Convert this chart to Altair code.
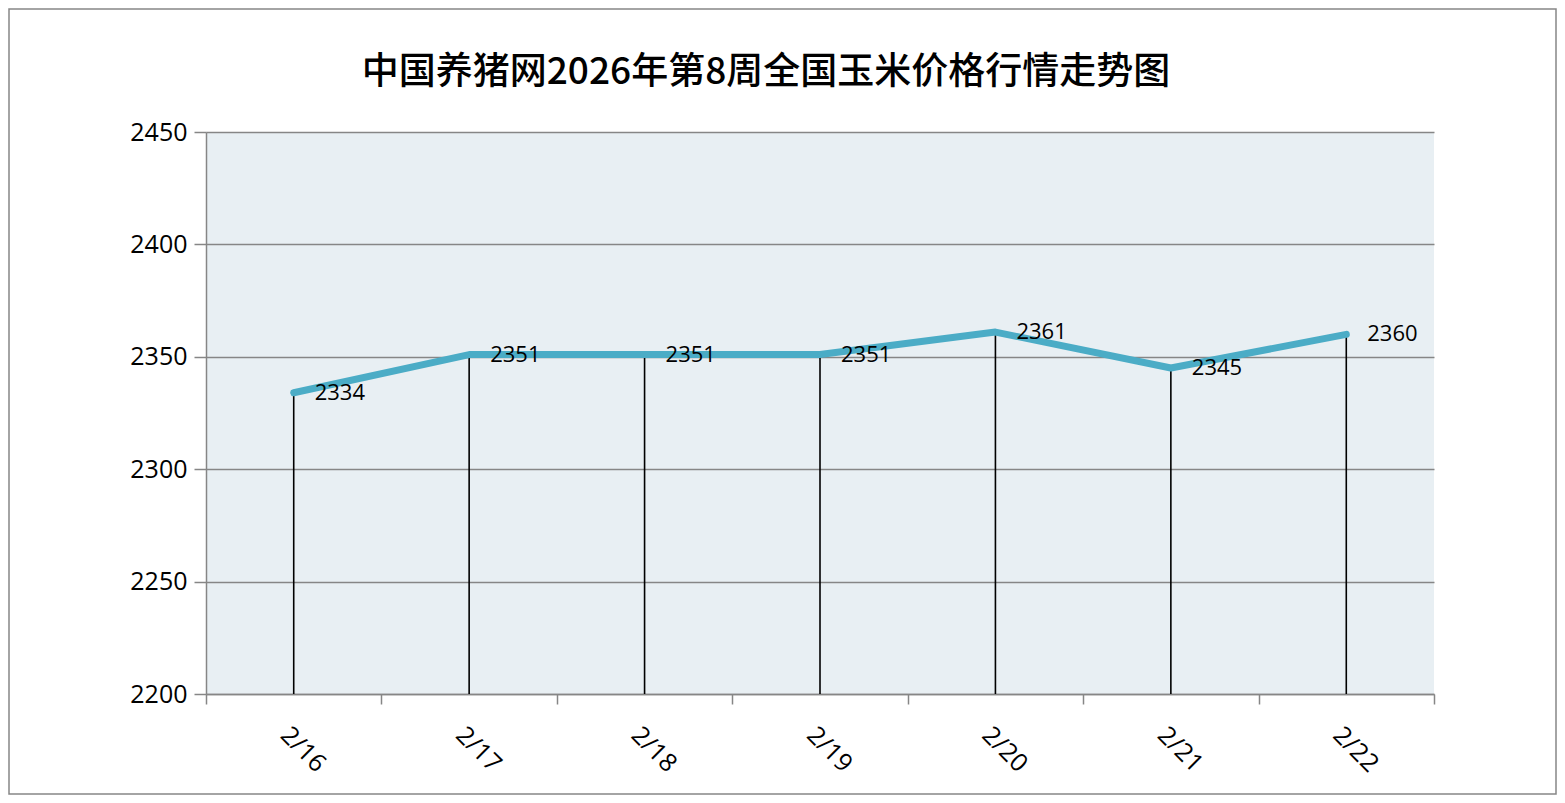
import altair as alt
import pandas as pd

dates = ["2/16", "2/17", "2/18", "2/19", "2/20", "2/21", "2/22"]
prices = [2334, 2351, 2351, 2351, 2361, 2345, 2360]
y_ticks = [2200, 2250, 2300, 2350, 2400, 2450]
title_text = "中国养猪网2026年第8周全国玉米价格行情走势图"

df = pd.DataFrame({"date": dates, "price": prices, "base": [2200] * len(dates)})

W, H = 1228, 562
PL, PT = 198, 124
TOTAL_W, TOTAL_H = 1549, 787
GRAY = "#868686"
FONT = "Open Sans"

xenc = alt.X(
    "date:N",
    sort=dates,
    bandPosition=0.5,
    scale=alt.Scale(type="band", paddingInner=0, paddingOuter=0),
    axis=alt.Axis(
        title=None,
        labelAngle=45,
        labelAlign="center",
        labelBaseline="middle",
        labelPadding=45,
        labelOffset=9,
        labelFont=FONT,
        labelFontSize=25,
        labelColor="black",
        tickBand="extent",
        tickSize=10,
        tickColor=GRAY,
        tickWidth=1.5,
        domainColor=GRAY,
        domainWidth=1.5,
        grid=False,
    ),
)
yenc = alt.Y(
    "price:Q",
    scale=alt.Scale(domain=[2200, 2450], nice=False, zero=False),
    axis=alt.Axis(
        title=None,
        values=y_ticks,
        format="d",
        labelFont=FONT,
        labelFontSize=25,
        labelColor="black",
        labelPadding=7,
        tickSize=12,
        tickColor=GRAY,
        tickWidth=1.5,
        domainColor=GRAY,
        domainWidth=1.5,
        grid=True,
        gridColor=GRAY,
        gridWidth=1.5,
    ),
)

base = alt.Chart(df)

drops = base.mark_rule(color="black", strokeWidth=1.6).encode(
    x=xenc, y=yenc, y2="base:Q"
)
line = base.mark_line(color="#4BACC6", strokeWidth=7, strokeCap="round", strokeJoin="round").encode(
    x=xenc, y=yenc
)
labels = base.mark_text(
    align="left", baseline="middle", dx=21, font=FONT, fontSize=22, color="black"
).encode(x=xenc, y=yenc, text="price:Q")

title = alt.Chart(pd.DataFrame({"t": [title_text]})).mark_text(
    font="Noto Sans CJK SC", fontSize=37, fontWeight=500, color="black",
    align="center", baseline="middle"
).encode(text="t:N", x=alt.value(766 - 206), y=alt.value(73 - 132))

border = alt.Chart(pd.DataFrame({"a": [0]})).mark_rect(
    fill=None, stroke=GRAY, strokeWidth=1.5
).encode(
    x=alt.value(-PL + 1), x2=alt.value(TOTAL_W - PL - 1),
    y=alt.value(-PT + 1), y2=alt.value(TOTAL_H - PT - 1),
)

chart = (
    alt.layer(drops, line, labels, title, border)
    .properties(
        width=W,
        height=H,
        padding={"left": PL, "top": PT, "right": TOTAL_W - PL - W, "bottom": TOTAL_H - PT - H},
        autosize=alt.AutoSizeParams(type="none"),
        background="white",
    )
    .configure_view(fill="#E8EFF3", stroke=None)
)

chart.save("out.html", embed_options={"renderer": "svg", "actions": False})
